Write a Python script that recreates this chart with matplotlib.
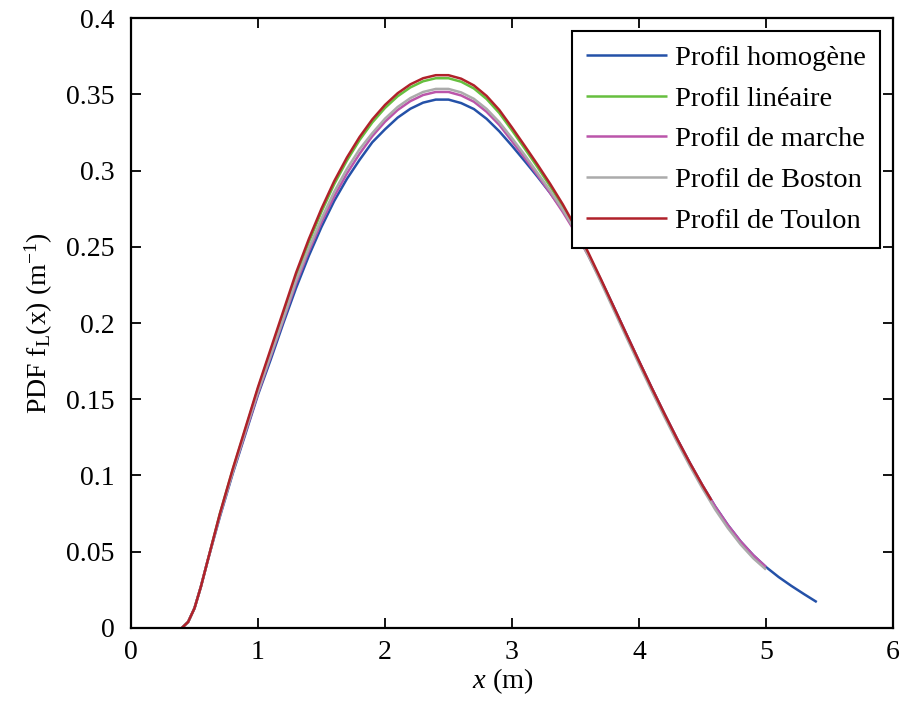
import matplotlib
matplotlib.use("Agg")
import matplotlib.pyplot as plt

plt.rcParams['font.family'] = ['Liberation Serif', 'DejaVu Serif']
plt.rcParams['mathtext.fontset'] = 'custom'
plt.rcParams['mathtext.rm'] = 'Liberation Serif'
plt.rcParams['mathtext.it'] = 'Liberation Serif:italic'

# --- data ---
x_homogene = [0.40, 0.45, 0.50, 0.55, 0.60, 0.7, 0.8, 0.9, 1.0, 1.1, 1.2, 1.3, 1.4, 1.5,
              1.6, 1.7, 1.8, 1.9, 2.0, 2.1, 2.2, 2.3, 2.4, 2.5, 2.6, 2.7, 2.8, 2.9, 3.0,
              3.1, 3.2, 3.3, 3.4, 3.5, 3.6, 3.7, 3.8, 3.9, 4.0, 4.1, 4.2, 4.3, 4.4, 4.5,
              4.6, 4.7, 4.8, 4.9, 5.0, 5.1, 5.2, 5.3, 5.4]
y_homogene = [0.000, 0.004, 0.013, 0.027, 0.043, 0.073, 0.101, 0.127, 0.153, 0.176, 0.200,
              0.223, 0.244, 0.263, 0.280, 0.2945, 0.307, 0.3185, 0.327, 0.3347, 0.3405,
              0.3445, 0.3465, 0.3465, 0.3442, 0.3403, 0.3339, 0.3257, 0.3162, 0.3062,
              0.2960, 0.2853, 0.2738, 0.2603, 0.2448, 0.2283, 0.2108, 0.1928, 0.1750,
              0.1575, 0.1405, 0.1240, 0.1083, 0.0935, 0.0797, 0.0675, 0.0568, 0.0477,
              0.0400, 0.0334, 0.0276, 0.0222, 0.0170]

x_lineaire = x_homogene[:44]
y_lineaire = [0.000, 0.004, 0.013, 0.027, 0.043, 0.075, 0.1035, 0.130, 0.157, 0.1815, 0.2062,
              0.231, 0.253, 0.273, 0.291, 0.3065, 0.320, 0.3315, 0.341, 0.3487, 0.3545,
              0.3585, 0.3605, 0.3605, 0.3582, 0.3538, 0.3469, 0.3377, 0.3263, 0.3144,
              0.3023, 0.2897, 0.2763, 0.2615, 0.2452, 0.2278, 0.2099, 0.1920, 0.1742,
              0.1568, 0.1398, 0.1233, 0.1077, 0.0929]

x_marche = x_homogene[:49]
y_marche = [0.000, 0.004, 0.013, 0.027, 0.043, 0.074, 0.102, 0.128, 0.154, 0.178, 0.202,
            0.226, 0.247, 0.266, 0.283, 0.298, 0.311, 0.3225, 0.332, 0.3397, 0.3455,
            0.3495, 0.3515, 0.3515, 0.3492, 0.3451, 0.3385, 0.3299, 0.3192, 0.3082,
            0.2970, 0.2853, 0.2728, 0.2593, 0.2443, 0.2278, 0.2105, 0.1928, 0.1750,
            0.1575, 0.1405, 0.1240, 0.1083, 0.0935, 0.0797, 0.0675, 0.0568, 0.0477,
            0.0400]

x_boston = x_homogene[:49]
y_boston = [0.000, 0.004, 0.013, 0.027, 0.043, 0.074, 0.102, 0.129, 0.155, 0.179, 0.203,
            0.228, 0.249, 0.2685, 0.286, 0.301, 0.314, 0.3245, 0.334, 0.3417, 0.3475,
            0.3515, 0.3535, 0.3535, 0.3512, 0.3470, 0.3404, 0.3317, 0.3212, 0.3102,
            0.2985, 0.2868, 0.2743, 0.2603, 0.2443, 0.2268, 0.2088, 0.1908, 0.1730,
            0.1555, 0.1385, 0.1220, 0.1063, 0.0915, 0.0777, 0.0655, 0.0548, 0.0457,
            0.0383]

x_toulon = x_homogene[:44] + [4.57]
y_toulon = [0.000, 0.004, 0.013, 0.027, 0.043, 0.075, 0.104, 0.131, 0.158, 0.183, 0.208,
            0.233, 0.255, 0.275, 0.293, 0.3085, 0.322, 0.3335, 0.343, 0.3507, 0.3565,
            0.3605, 0.3625, 0.3625, 0.3602, 0.3558, 0.3489, 0.3397, 0.3282, 0.3162,
            0.3040, 0.2913, 0.2778, 0.2628, 0.2463, 0.2288, 0.2108, 0.1928, 0.1750,
            0.1575, 0.1405, 0.1240, 0.1083, 0.0935, 0.0838]

labels = ['Profil homogène', 'Profil linéaire', 'Profil de marche',
          'Profil de Boston', 'Profil de Toulon']
colors = ['#2451A8', '#66BF3F', '#BB55AA', '#ABABAB', '#B0212A']

xticks = [0, 1, 2, 3, 4, 5, 6]
yticks = [0, 0.05, 0.1, 0.15, 0.2, 0.25, 0.3, 0.35, 0.4]
ytick_labels = ['0', '0.05', '0.1', '0.15', '0.2', '0.25', '0.3', '0.35', '0.4']

fig = plt.figure(figsize=(9.01, 7.23), dpi=100)
ax = fig.add_axes([0.1454, 0.1314, 0.8457, 0.8437])

series = [(x_homogene, y_homogene), (x_lineaire, y_lineaire), (x_marche, y_marche),
          (x_boston, y_boston), (x_toulon, y_toulon)]
for (xs, ys), lab, c in zip(series, labels, colors):
    ax.plot(xs, ys, color=c, lw=1.8, label=lab, solid_capstyle='butt',
            solid_joinstyle='round')

ax.set_xlim(0, 6)
ax.set_ylim(0, 0.4)
ax.set_xticks(xticks)
ax.set_xticklabels([str(t) for t in xticks])
ax.set_yticks(yticks)
ax.set_yticklabels(ytick_labels)
ax.tick_params(direction='in', length=7, width=1.3, top=True, right=True,
               labelsize=20, colors='black')
ax.tick_params(axis='y', pad=12)
ax.tick_params(axis='x', pad=9)
for s in ax.spines.values():
    s.set_linewidth(1.6)

ax.set_xlabel(r'$\mathit{x}$ (m)', fontsize=20.5)
ax.xaxis.set_label_coords(0.4875, -0.062)
ax.set_ylabel(r'PDF f$_\mathrm{L}$(x) (m$^\mathrm{-1}$)', fontsize=20, labelpad=8)

leg = ax.legend(loc='upper right', fontsize=20.5, frameon=True, fancybox=False,
                edgecolor='black', framealpha=1, handlelength=2.85, handletextpad=0.28,
                borderpad=0.5, labelspacing=0.52, borderaxespad=0.45)
leg.get_frame().set_linewidth(1.5)

fig.savefig('out.png', dpi=100)
